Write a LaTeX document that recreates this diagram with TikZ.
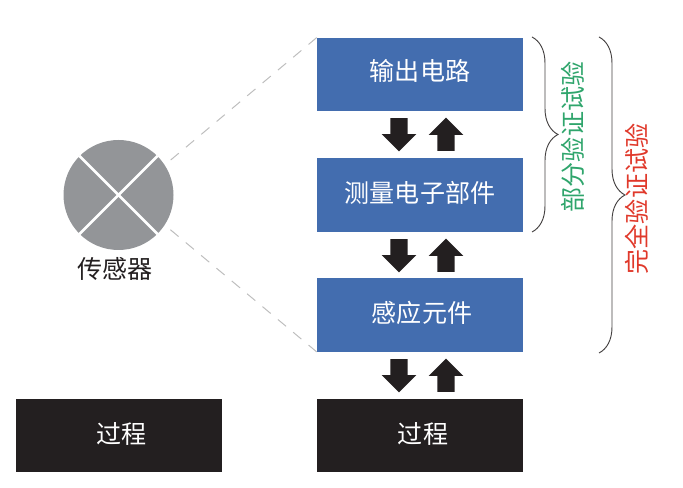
\documentclass[tikz,border=0pt]{standalone}
\usepackage{fontspec}
\setmainfont{Noto Sans CJK SC}
\usetikzlibrary{shapes.arrows}
\usetikzlibrary{decorations.pathreplacing}
\pgfdeclarelayer{edgelayer}
\pgfdeclarelayer{nodelayer}
\pgfsetlayers{edgelayer,nodelayer,main}
\definecolor{blockblue}{HTML}{436DAF}
\definecolor{inkblack}{HTML}{231F20}
\definecolor{sensorgray}{HTML}{939598}
\definecolor{dashgray}{HTML}{BEBEBE}
\definecolor{partgreen}{HTML}{2FA56C}
\definecolor{fullred}{HTML}{E0392B}
\tikzstyle{none}=[inner sep=0pt,font=\fontsize{18.8pt}{22pt}\selectfont,text=inkblack]
\tikzstyle{block}=[rectangle,fill=blockblue,text=white,inner sep=0pt,minimum width=154.5pt,minimum height=55pt,text height=14pt,text depth=2.25pt,font=\fontsize{18.8pt}{22pt}\selectfont]
\tikzstyle{process}=[block,fill=inkblack,execute at begin node={\hspace*{4.5pt}}]
\tikzstyle{sensor}=[circle,fill=sensorgray,inner sep=0pt,minimum size=82.5pt]
\tikzstyle{flow}=[single arrow,fill=inkblack,inner sep=6.25pt,minimum width=25.5pt,minimum height=25pt,single arrow head extend=6.5pt,single arrow tip angle=90]
\tikzstyle{flowdown}=[flow,shape border rotate=270]
\tikzstyle{flowup}=[flow,shape border rotate=90]
\tikzstyle{zoomline}=[draw=dashgray,dash pattern=on 8pt off 7pt,line width=0.75pt]
\tikzstyle{bracket}=[draw=inkblack!85,line width=0.7pt,decorate,decoration={brace,amplitude=19.5pt}]
\tikzstyle{cross}=[draw=white,line width=2pt]

\begin{document}
\begin{tikzpicture}[x=0.75pt,y=0.75pt]
	\useasboundingbox (0, 0) rectangle (683, 488);
	\begin{pgfonlayer}{nodelayer}
		\node [style=block,text depth=4.5pt] (0) at (420, 413.5) {输出电路};
		\node [style=block] (1) at (420, 293) {测量电子部件};
		\node [style=block,execute at begin node={\hspace*{3pt}}] (2) at (420, 173) {感应元件};
		\node [style=process] (3) at (420, 52.5) {过程};
		\node [style=process] (4) at (118.5, 52.5) {过程};
		\node [style=sensor] (5) at (118.5, 293) {};
		\node [style=none] (6) at (115, 219) {传感器};
		\node [style=flowdown] (7) at (399, 357.5) {};
		\node [style=flowup] (8) at (446, 349.5) {};
		\node [style=flowdown] (9) at (399, 236.5) {};
		\node [style=flowup] (10) at (446, 228.5) {};
		\node [style=flowdown] (11) at (399, 116.5) {};
		\node [style=flowup] (12) at (446, 108.5) {};
		\node [style=none,text=partgreen,rotate=90] (13) at (573, 351) {部分验证试验};
		\node [style=none,text=fullred,rotate=90] (14) at (637, 289) {完全验证试验};
		\coordinate (15) at (532, 451);
		\coordinate (16) at (532, 256);
		\coordinate (17) at (599, 451);
		\coordinate (18) at (599, 135);
	\end{pgfonlayer}
	\begin{pgfonlayer}{edgelayer}
		\draw [style=zoomline,shorten >=1.5pt] (0.north west) to (5.33);
		\draw [style=zoomline,shorten >=1.5pt] (2.south west) to (5.-33);
		\draw [style=bracket] (15) to (16);
		\draw [style=bracket] (17) to (18);
	\end{pgfonlayer}
	\draw [style=cross] (5.45) to (5.225);
	\draw [style=cross] (5.135) to (5.315);
\end{tikzpicture}
\end{document}
